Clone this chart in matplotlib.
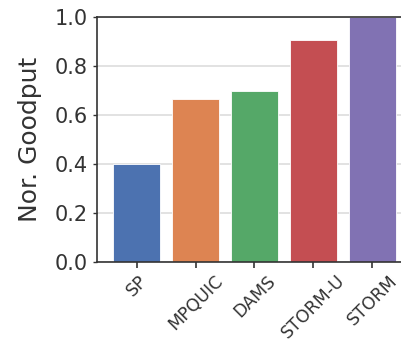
import matplotlib
matplotlib.use("Agg")
import matplotlib.pyplot as plt
import seaborn as sns

# data
methods = ["SP", "MPQUIC", "DAMS", "STORM-U", "STORM"]
goodput = [0.40, 0.665, 0.70, 0.905, 1.0]
colors = sns.color_palette("deep", 5)

sns.set_style("whitegrid")
plt.rcParams['font.family'] = ['DejaVu Sans']

fig = plt.figure(figsize=(4.02, 3.47), dpi=100)
# axes runs off the right edge, like the cropped original
ax = fig.add_axes([97 / 402, 1 - 262 / 347, 1 - 97 / 402, 245 / 347])

ax.bar(range(len(methods)), goodput, width=0.8, color=colors,
       edgecolor="white", linewidth=0.6, zorder=2)

ax.set_xlim(-0.68, 4.51)
ax.set_ylim(0, 1.0)
ax.set_yticks([0.0, 0.2, 0.4, 0.6, 0.8, 1.0])
ax.set_xticks(range(len(methods)))
ax.set_xticklabels(methods, rotation=45, ha="center",
                   fontsize=12.5, color="#333333")
ax.tick_params(axis="y", labelsize=15, colors="#333333", length=3, width=1)
ax.tick_params(axis="x", length=4, width=1.2, color="#333333", pad=3)
ax.tick_params(axis="both", which="major", bottom=True, left=True)
ax.set_ylabel("Nor. Goodput", fontsize=18, color="#333333", labelpad=9)

ax.grid(axis="x", visible=False)
ax.grid(axis="y", color="#dddddd", linewidth=1.2, zorder=0)
for side in ["left", "bottom", "top"]:
    ax.spines[side].set_color("#333333")
    ax.spines[side].set_linewidth(1.2)
ax.spines["right"].set_visible(False)

fig.savefig("out.png", dpi=100)
